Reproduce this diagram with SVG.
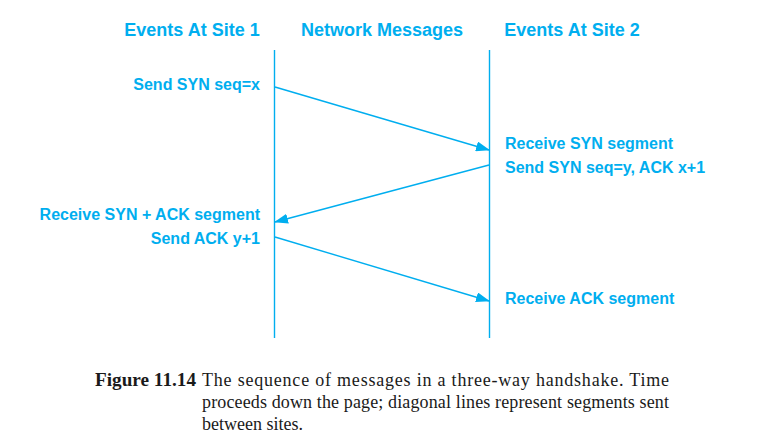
<svg xmlns="http://www.w3.org/2000/svg" width="761" height="446" viewBox="0 0 761 446">
<defs>
<marker id="ah" markerWidth="14" markerHeight="10" refX="13" refY="5" orient="auto" markerUnits="userSpaceOnUse">
<path d="M0,0 L14,5 L0,10 Z" fill="#00AEEF"/>
</marker>
<style>
.lbl{font-family:"Liberation Sans",Arial,sans-serif;font-weight:bold;font-size:16px;fill:#00AEEF}
.hdr{font-family:"Liberation Sans",Arial,sans-serif;font-weight:bold;font-size:18px;fill:#00AEEF}
.ln{stroke:#00AEEF;stroke-width:1.4;fill:none}
.cap{font-family:"Liberation Serif","Times New Roman",serif;font-size:18px;fill:#1a1a1a}
</style>
</defs>
<rect width="761" height="446" fill="#fff"/>
<g id="headers">
<text class="hdr" x="192" y="36" text-anchor="middle">Events At Site 1</text>
<text class="hdr" x="382" y="36" text-anchor="middle">Network Messages</text>
<text class="hdr" x="572" y="36" text-anchor="middle">Events At Site 2</text>
</g>
<g id="site1">
<line class="ln" x1="274.5" y1="50" x2="274.5" y2="338"/>
<text class="lbl" x="260" y="90" text-anchor="end">Send SYN seq=x</text>
<text class="lbl" x="260" y="220" text-anchor="end">Receive SYN + ACK segment</text>
<text class="lbl" x="260" y="244" text-anchor="end">Send ACK y+1</text>
</g>
<g id="site2">
<line class="ln" x1="489.5" y1="50" x2="489.5" y2="338"/>
<text class="lbl" x="505" y="149">Receive SYN segment</text>
<text class="lbl" x="505" y="173">Send SYN seq=y, ACK x+1</text>
<text class="lbl" x="505" y="304">Receive ACK segment</text>
</g>
<g id="connectors">
<line class="ln" x1="275" y1="87" x2="489" y2="150" marker-end="url(#ah)"/>
<line class="ln" x1="489" y1="165" x2="275" y2="222" marker-end="url(#ah)"/>
<line class="ln" x1="275" y1="237" x2="489" y2="301" marker-end="url(#ah)"/>
</g>
<g id="caption">
<text class="cap" x="95" y="386" font-weight="bold" textLength="101" lengthAdjust="spacingAndGlyphs">Figure 11.14</text>
<text class="cap" x="202" y="386" textLength="467" lengthAdjust="spacing">The sequence of messages in a three-way handshake.  Time</text>
<text class="cap" x="202" y="408" textLength="467" lengthAdjust="spacing">proceeds down the page; diagonal lines represent segments sent</text>
<text class="cap" x="202" y="430">between sites.</text>
</g>
</svg>
